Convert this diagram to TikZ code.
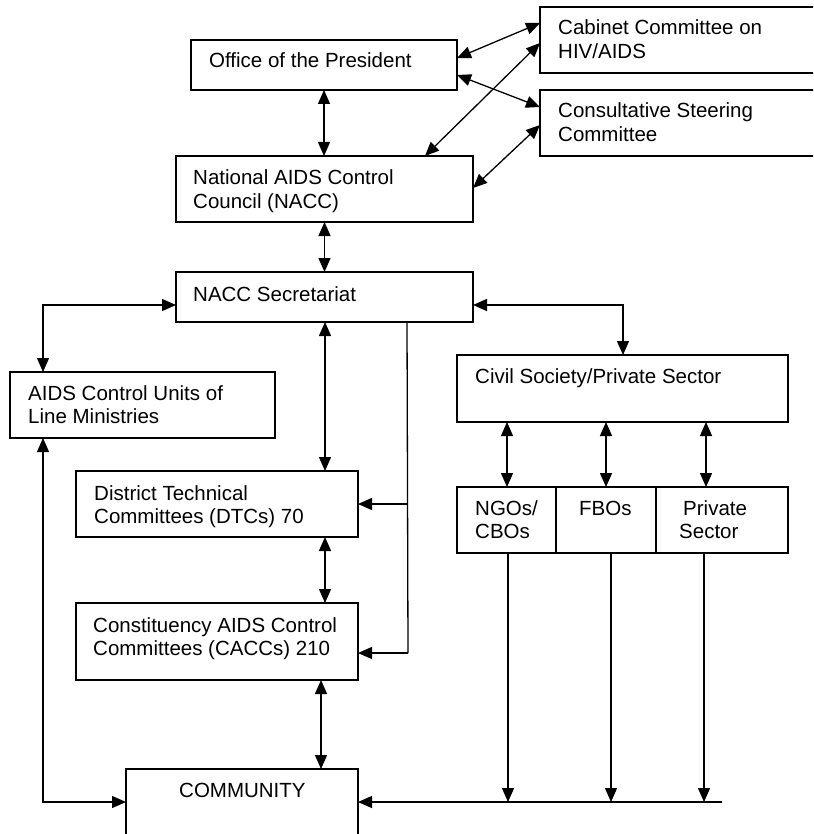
\documentclass[tikz,border=0pt]{standalone}
\usepackage{fontspec}
\setmainfont{Liberation Sans}
\usetikzlibrary{arrows.meta,calc}
\begin{document}
\begin{tikzpicture}[x=1pt,y=-1pt,
  box/.style={draw,line width=1.4pt,inner sep=0pt,outer sep=0pt,rectangle},
  lbl/.style={anchor=base west,inner sep=0pt,font=\fontsize{20.5}{24}\selectfont},
  conn/.style={line width=1.3pt},
  onetip/.style={-{Triangle[length=14pt,width=12pt]}},
  dbl/.style={{Triangle[length=14pt,width=12pt]}-{Triangle[length=14pt,width=12pt]}}]
\useasboundingbox (0,0) rectangle (813,834);
\clip (0,0) rectangle (813,834);
\fill[white] (0,0) rectangle (813,834);

% boxes
\node[box,minimum width=266pt,minimum height=50pt] (office) at (324,65) {};
\node[box,minimum width=290pt,minimum height=66pt] (cabinet) at (685,40) {};
\node[box,minimum width=290pt,minimum height=66pt] (consult) at (685,123) {};
\node[box,minimum width=297pt,minimum height=66pt] (nacc) at (324.5,189) {};
\node[box,minimum width=297pt,minimum height=50pt] (sec) at (324.5,297) {};
\node[box,minimum width=265pt,minimum height=66pt] (units) at (142.5,405) {};
\node[box,minimum width=331pt,minimum height=67pt] (civil) at (622.5,388.5) {};
\node[box,minimum width=99pt,minimum height=66pt] (ngo) at (506.5,520) {};
\node[box,minimum width=100pt,minimum height=66pt] (fbo) at (606,520) {};
\node[box,minimum width=132pt,minimum height=66pt] (priv) at (722,520) {};
\node[box,minimum width=282pt,minimum height=66pt] (dtc) at (217,504) {};
\node[box,minimum width=282pt,minimum height=77pt] (cacc) at (217,641.5) {};
\node[box,minimum width=232pt,minimum height=91pt] (comm) at (242,814.5) {};

% labels
\node[lbl] (tOffice) at (209,68) {Office of the President};
\node[lbl] (tCab1) at (558,35) {Cabinet Committee on};
\node[lbl] (tCab2) at (558,58.5) {HIV/AIDS};
\node[lbl] (tCon1) at (558,118) {Consultative Steering};
\node[lbl] (tCon2) at (558,141.5) {Committee};
\node[lbl] (tNacc1) at (193,185) {National AIDS Control};
\node[lbl] (tNacc2) at (193,208.5) {Council (NACC)};
\node[lbl] (tSec) at (193,301) {NACC Secretariat};
\node[lbl] (tUnits1) at (28,400) {AIDS Control Units of};
\node[lbl] (tUnits2) at (28,423.5) {Line Ministries};
\node[lbl] (tCivil) at (475,383) {Civil Society/Private Sector};
\node[lbl] (tNgo1) at (475,515) {NGOs/};
\node[lbl] (tNgo2) at (475,538.5) {CBOs};
\node[lbl] (tFbo) at (579,515) {FBOs};
\node[lbl] (tPriv1) at (683,515) {Private};
\node[lbl] (tPriv2) at (679,538.5) {Sector};
\node[lbl] (tDtc1) at (94,500) {District Technical};
\node[lbl] (tDtc2) at (94,523) {Committees (DTCs) 70};
\node[lbl] (tCacc1) at (93,632) {Constituency AIDS Control};
\node[lbl] (tCacc2) at (93,655) {Committees (CACCs) 210};
\node[lbl] (tComm) at (179,797) {COMMUNITY};

% anchor coordinates
\coordinate (oC) at ($(office.north east)+(0,18)$);
\coordinate (cO) at ($(cabinet.north west)+(0,16)$);
\coordinate (oS) at ($(office.north east)+(0,35)$);
\coordinate (sO) at ($(consult.north west)+(0,17)$);
\coordinate (nC) at ($(nacc.north west)+(249,0)$);
\coordinate (cN) at ($(cabinet.north west)+(0,36)$);
\coordinate (nS) at ($(nacc.north east)+(0,32)$);
\coordinate (sN) at ($(consult.north west)+(0,35)$);
\coordinate (secL) at ($(sec.north west)+(0,33)$);
\coordinate (unitsT) at ($(units.north west)+(33,0)$);
\coordinate (unitsB) at ($(units.south west)+(33,0)$);
\coordinate (secR) at ($(sec.north east)+(0,33)$);
\coordinate (civilT) at ($(civil.north west)+(166,0)$);
\coordinate (secB) at ($(sec.south west)+(149,0)$);
\coordinate (dtcT) at ($(dtc.north west)+(249,0)$);
\coordinate (dtcB) at ($(dtc.south west)+(249,0)$);
\coordinate (caccT) at ($(cacc.north west)+(249,0)$);
\coordinate (caccB) at ($(cacc.south west)+(245,0)$);
\coordinate (commT) at (caccB |- comm.north);
\coordinate (commL) at ($(comm.north west)+(0,33)$);
\coordinate (commR) at ($(comm.north east)+(0,33)$);
\coordinate (busTop) at ($(sec.south west)+(231,0)$);
\coordinate (busDtc) at (busTop |- dtc.east);
\coordinate (busCacc) at ($(cacc.north east)+(50,50)$);
\coordinate (caccR) at (busCacc -| cacc.east);
\coordinate (busEnd) at ($(comm.north east)+(364,33)$);
\coordinate (ngoB) at ($(ngo.south west)+(51,0)$);
\coordinate (fboB) at ($(fbo.south west)+(55,0)$);
\coordinate (privB) at ($(priv.south west)+(48,0)$);
\coordinate (civ1) at ($(civil.south west)+(50,0)$);
\coordinate (civ2) at ($(civil.south west)+(149,0)$);
\coordinate (civ3) at ($(civil.south west)+(249,0)$);
\coordinate (ngoT) at ($(ngo.north west)+(50,0)$);
\coordinate (fboT) at ($(fbo.north west)+(50,0)$);
\coordinate (privT) at ($(priv.north west)+(50,0)$);

% top connectors
\draw[conn,dbl] (office.south) -- (office.south |- nacc.north);
\draw[conn,dbl] (oC) -- (cO);
\draw[conn,dbl] (oS) -- (sO);
\draw[conn,dbl] (nC) -- (cN);
\draw[conn,dbl] (nS) -- (sN);
\draw[conn,dbl] (nacc.south) -- (nacc.south |- sec.north);

% secretariat connectors
\draw[conn,dbl] (secL) -| (unitsT);
\draw[conn,dbl] (secR) -| (civilT);
\draw[conn,dbl] (secB) -- (dtcT);
\draw[conn] (busTop) -- (busCacc);
\draw[conn,onetip] (busDtc) -- (dtc.east);
\draw[conn,onetip] (busCacc) -- (caccR);

% civil society connectors
\draw[conn,dbl] (civ1) -- (ngoT);
\draw[conn,dbl] (civ2) -- (fboT);
\draw[conn,dbl] (civ3) -- (privT);

% lower connectors
\draw[conn,dbl] (dtcB) -- (caccT);
\draw[conn,dbl] (caccB) -- (commT);
\draw[conn,dbl] (unitsB) |- (commL);
\draw[conn,onetip] (busEnd) -- (commR);
\draw[conn,onetip] (ngoB) -- (ngoB |- busEnd);
\draw[conn,onetip] (fboB) -- (fboB |- busEnd);
\draw[conn,onetip] (privB) -- (privB |- busEnd);
\end{tikzpicture}
\end{document}
